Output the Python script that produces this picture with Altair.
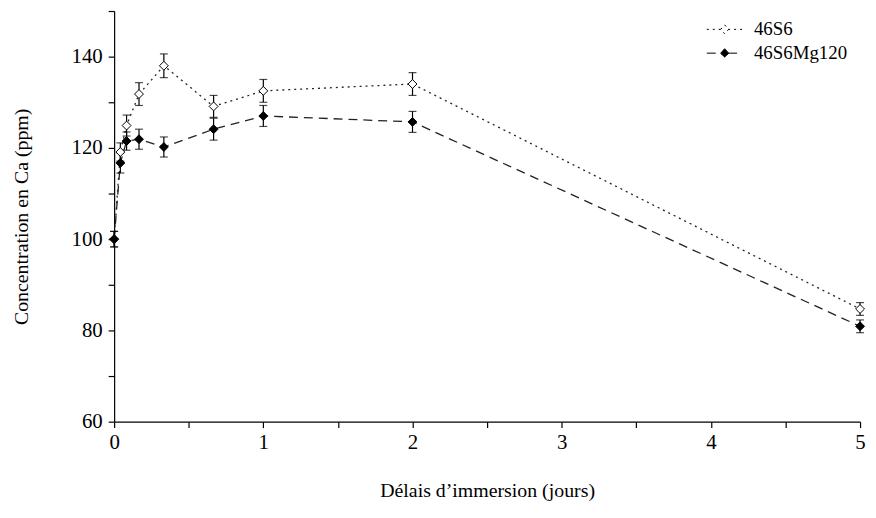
import altair as alt
import pandas as pd

# time points in days (0, 1h, 2h, 4h, 8h, 16h, 1d, 2d, 5d)
days = [0, 1/24, 2/24, 4/24, 8/24, 16/24, 1, 2, 5]

s1_name = "46S6"
s1_values = [100, 119.1, 124.9, 131.8, 138.0, 129.1, 132.5, 134.0, 84.7]
s1_err = [1.7, 2.0, 2.3, 2.5, 2.6, 2.4, 2.5, 2.5, 1.4]

s2_name = "46S6Mg120"
s2_values = [100, 116.7, 121.5, 121.9, 120.2, 124.1, 127.0, 125.7, 80.9]
s2_err = [1.7, 2.2, 2.0, 2.2, 2.2, 2.4, 2.3, 2.3, 1.4]

x_ticks = [0, 0.5, 1, 1.5, 2, 2.5, 3, 3.5, 4, 4.5, 5]
y_ticks = [60, 70, 80, 90, 100, 110, 120, 130, 140, 150]

rows = []
for name, vals, errs in [(s1_name, s1_values, s1_err), (s2_name, s2_values, s2_err)]:
    for d, v, e in zip(days, vals, errs):
        rows.append({"t": d, "v": v, "lo": v - e, "hi": v + e, "serie": name})
df = pd.DataFrame(rows)

FONT = "Liberation Serif"
series_order = [s1_name, s2_name]

x_enc = alt.X("t:Q", scale=alt.Scale(domain=[0, 5], nice=False),
              axis=alt.Axis(values=x_ticks, title="Délais d’immersion (jours)",
                            labelExpr="datum.value % 1 == 0 ? format(datum.value, 'd') : ''",
                            labelFlush=False, titlePadding=28, labelPadding=4))
y_scale = alt.Scale(domain=[60, 150], nice=False, zero=False)
y_enc = alt.Y("v:Q", scale=y_scale,
              axis=alt.Axis(values=y_ticks, title="Concentration en Ca (ppm)",
                            labelExpr="datum.value % 20 == 0 ? datum.label : ''",
                            labelFlush=False, titlePadding=40, labelPadding=6))

legend_path = "M-1.8,0L-0.35,0M0.35,0L1.8,0M0,-0.45L0.4,0L0,0.45L-0.4,0Z"

base = alt.Chart(df)

lines = base.mark_line(strokeWidth=1.3, color="#222222").encode(
    x=x_enc, y=y_enc,
    strokeDash=alt.StrokeDash("serie:N",
        scale=alt.Scale(domain=series_order, range=[[2, 4], [9, 6]]),
        legend=alt.Legend(title=None)),
)

err_rules = base.mark_rule(color="black", strokeWidth=1.2).encode(
    x="t:Q", y=alt.Y("lo:Q", scale=y_scale), y2="hi:Q")

cap_lo = base.mark_tick(color="black", orient="horizontal", size=8, thickness=1.2).encode(
    x="t:Q", y=alt.Y("lo:Q", scale=y_scale))
cap_hi = base.mark_tick(color="black", orient="horizontal", size=8, thickness=1.2).encode(
    x="t:Q", y=alt.Y("hi:Q", scale=y_scale))

points = base.mark_point(shape="diamond", filled=True, stroke="black",
                         strokeWidth=1, size=80, opacity=1).encode(
    x="t:Q", y="v:Q",
    fill=alt.Fill("serie:N",
        scale=alt.Scale(domain=series_order, range=["white", "black"]),
        legend=alt.Legend(title=None)),
)

chart = alt.layer(lines, err_rules, cap_lo, cap_hi, points).properties(
    width=752, height=414,
    autosize=alt.AutoSizeParams(type="none"),
    padding={"left": 107, "top": 1, "right": 8, "bottom": 86},
).configure_view(stroke=None).configure_axis(
    grid=False, domainColor="black", tickColor="black", tickSize=6,
    labelFont=FONT, labelFontSize=21, labelColor="black",
    titleFont=FONT, titleFontSize=20, titleFontWeight="normal", titleColor="black",
    domainWidth=1.2, tickWidth=1.2,
).configure_legend(
    orient="none", legendX=605, legendY=8,
    symbolType=legend_path, symbolSize=400, symbolStrokeColor="black",
    symbolStrokeWidth=1, labelFont=FONT, labelFontSize=19, labelColor="black",
    labelOffset=19, rowPadding=3,
)

chart.save("out.html", embed_options={"renderer": "svg", "actions": False})
